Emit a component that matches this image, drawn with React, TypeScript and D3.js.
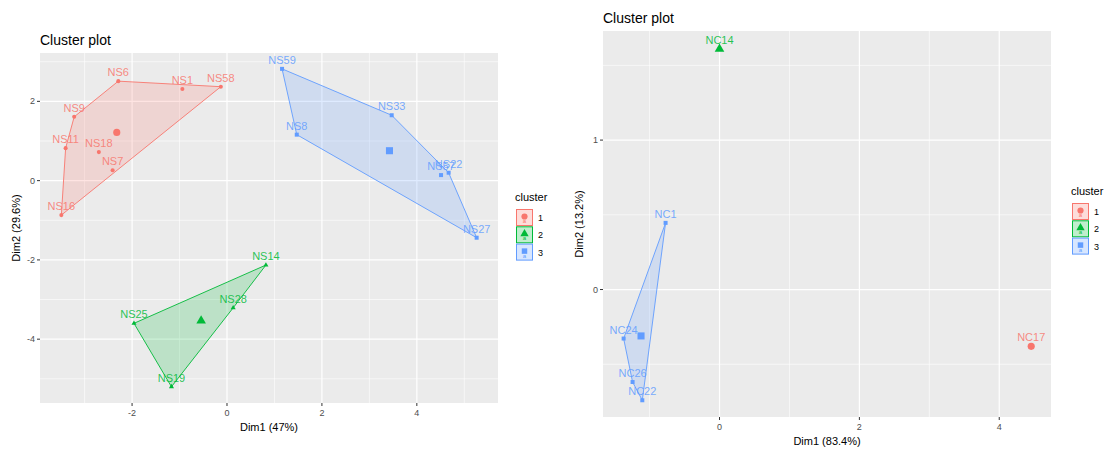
import * as d3 from "d3";

// ---- data ----
const COLORS = ["#F8766D", "#00BA38", "#619CFF"];
const CLUSTERS = [1, 2, 3];

const leftNames = ["NS6", "NS1", "NS58", "NS9", "NS11", "NS18", "NS7", "NS16", "NS59", "NS33", "NS8", "NS57", "NS22", "NS27", "NS14", "NS28", "NS25", "NS19"];
const leftDim1 = [-2.29, -0.94, -0.13, -3.22, -3.4, -2.7, -2.41, -3.49, 1.16, 3.47, 1.47, 4.51, 4.67, 5.26, 0.82, 0.13, -1.96, -1.17];
const leftDim2 = [2.51, 2.31, 2.37, 1.61, 0.82, 0.72, 0.26, -0.87, 2.82, 1.65, 1.16, 0.14, 0.2, -1.44, -2.13, -3.21, -3.6, -5.2];
const leftCluster = [1, 1, 1, 1, 1, 1, 1, 1, 3, 3, 3, 3, 3, 3, 2, 2, 2, 2];
const leftXTicks = [-2, 0, 2, 4];
const leftYTicks = [-4, -2, 0, 2];

const rightNames = ["NC14", "NC1", "NC24", "NC26", "NC22", "NC17"];
const rightDim1 = [0, -0.771, -1.371, -1.243, -1.104, 4.457];
const rightDim2 = [1.61, 0.446, -0.328, -0.619, -0.741, -0.38];
const rightCluster = [2, 3, 3, 3, 3, 1];
const rightXTicks = [0, 2, 4];
const rightYTicks = [0, 1];

const FONT = "Liberation Sans, Arial, sans-serif";
const SHAPES = [d3.symbolCircle, d3.symbolTriangle, d3.symbolSquare];
const POINT_SIZE = [13, 11, 16];
const CENTER_SIZE = [40, 40, 50];

const sym = (ci: number, size: number) => d3.symbol().type(SHAPES[ci]).size(size)() || "";

function minors(ticks: number[], domain: number[]) {
  const step = ticks[1] - ticks[0];
  const out: number[] = [];
  for (let v = ticks[0] - step * 1.5; v <= domain[1]; v += step) {
    if (v >= domain[0]) out.push(v);
  }
  return out;
}

type PlotProps = {
  frame: { left: number; top: number; right: number; bottom: number };
  xDomain: number[];
  yDomain: number[];
  xTicks: number[];
  yTicks: number[];
  names: string[];
  dim1: number[];
  dim2: number[];
  cluster: number[];
  xTitle: string;
  yTitle: string;
  legendX: number;
  legendY: number;
};

function ClusterPlot(p: PlotProps) {
  const { left, top, right, bottom } = p.frame;
  const x = d3.scaleLinear().domain(p.xDomain).range([left, right]);
  const y = d3.scaleLinear().domain(p.yDomain).range([bottom, top]);

  const pts = p.names.map((n, i) => ({ name: n, x: p.dim1[i], y: p.dim2[i], c: p.cluster[i] }));
  const groups = CLUSTERS.map((c) => {
    const g = pts.filter((d) => d.c === c);
    const hull = g.length >= 3 ? d3.polygonHull(g.map((d) => [x(d.x), y(d.y)] as [number, number])) : null;
    return { c, g, hull, cx: d3.mean(g, (d) => d.x) as number, cy: d3.mean(g, (d) => d.y) as number };
  });

  return (
    <g fontFamily={FONT}>
      <text x={left} y={top - 8} fontSize={14} fill="#000">Cluster plot</text>
      <rect x={left} y={top} width={right - left} height={bottom - top} fill="#EBEBEB" />
      {minors(p.xTicks, p.xDomain).map((v) => (
        <line key={"mx" + v} x1={x(v)} x2={x(v)} y1={top} y2={bottom} stroke="#fff" strokeWidth={0.6} />
      ))}
      {minors(p.yTicks, p.yDomain).map((v) => (
        <line key={"my" + v} y1={y(v)} y2={y(v)} x1={left} x2={right} stroke="#fff" strokeWidth={0.6} />
      ))}
      {p.xTicks.map((v) => (
        <g key={"x" + v}>
          <line x1={x(v)} x2={x(v)} y1={top} y2={bottom} stroke="#fff" strokeWidth={1.2} />
          <line x1={x(v)} x2={x(v)} y1={bottom} y2={bottom + 3} stroke="#333" strokeWidth={1} />
          <text x={x(v)} y={bottom + 13} fontSize={9} fill="#4D4D4D" textAnchor="middle">{v < 0 ? "-" + Math.abs(v) : v}</text>
        </g>
      ))}
      {p.yTicks.map((v) => (
        <g key={"y" + v}>
          <line y1={y(v)} y2={y(v)} x1={left} x2={right} stroke="#fff" strokeWidth={1.2} />
          <line y1={y(v)} y2={y(v)} x1={left - 3} x2={left} stroke="#333" strokeWidth={1} />
          <text x={left - 5} y={y(v) + 3} fontSize={9} fill="#4D4D4D" textAnchor="end">{v < 0 ? "-" + Math.abs(v) : v}</text>
        </g>
      ))}
      {groups.map((gr) =>
        gr.hull ? (
          <path key={"h" + gr.c} d={"M" + gr.hull.join("L") + "Z"} fill={COLORS[gr.c - 1]} fillOpacity={0.2}
            stroke={COLORS[gr.c - 1]} strokeWidth={0.9} />
        ) : null
      )}
      {pts.map((d) => (
        <path key={"p" + d.name} d={sym(d.c - 1, POINT_SIZE[d.c - 1])}
          transform={`translate(${x(d.x)},${y(d.y)})`} fill={COLORS[d.c - 1]} />
      ))}
      {groups.map((gr) => (
        <path key={"c" + gr.c} d={sym(gr.c - 1, CENTER_SIZE[gr.c - 1])}
          transform={`translate(${x(gr.cx)},${y(gr.cy)})`} fill={COLORS[gr.c - 1]} />
      ))}
      {pts.map((d) => (
        <text key={"t" + d.name} x={x(d.x)} y={y(d.y) - 5} fontSize={11} textAnchor="middle"
          fill={COLORS[d.c - 1]} fillOpacity={0.85}>{d.name}</text>
      ))}
      <text x={(left + right) / 2} y={bottom + 28} fontSize={11} textAnchor="middle" fill="#000">{p.xTitle}</text>
      <text transform={`translate(${left - 20},${(top + bottom) / 2}) rotate(-90)`} fontSize={11}
        textAnchor="middle" fill="#000">{p.yTitle}</text>
      <g transform={`translate(${p.legendX},${p.legendY})`}>
        <text x={0} y={0} fontSize={11} fill="#000">cluster</text>
        {CLUSTERS.map((c, i) => (
          <g key={"l" + c} transform={`translate(1,${8 + i * 17.3})`}>
            <rect x={0.5} y={0.5} width={16} height={16} fill={COLORS[i]} fillOpacity={0.25} stroke={COLORS[i]} strokeWidth={1} />
            <text x={8.5} y={14} fontSize={6} textAnchor="middle" fill={COLORS[i]}>a</text>
            <path d={sym(i, 30)} transform="translate(8.5,7.5)" fill={COLORS[i]} />
            <text x={22} y={12} fontSize={9} fill="#000">{c}</text>
          </g>
        ))}
      </g>
    </g>
  );
}

export default function App() {
  return (
    <svg width={1115} height={453} style={{ position: "absolute", left: 0, top: 0, background: "#fff" }}>
      <rect width={1115} height={453} fill="#fff" />
      <ClusterPlot
        frame={{ left: 40, top: 53, right: 498, bottom: 403 }}
        xDomain={[-3.94, 5.71]} yDomain={[-5.61, 3.22]}
        xTicks={leftXTicks} yTicks={leftYTicks}
        names={leftNames} dim1={leftDim1} dim2={leftDim2} cluster={leftCluster}
        xTitle="Dim1 (47%)" yTitle="Dim2 (29.6%)"
        legendX={515} legendY={201}
      />
      <ClusterPlot
        frame={{ left: 603, top: 31, right: 1051, bottom: 417 }}
        xDomain={[-1.666, 4.74]} yDomain={[-0.853, 1.73]}
        xTicks={rightXTicks} yTicks={rightYTicks}
        names={rightNames} dim1={rightDim1} dim2={rightDim2} cluster={rightCluster}
        xTitle="Dim1 (83.4%)" yTitle="Dim2 (13.2%)"
        legendX={1071} legendY={195}
      />
    </svg>
  );
}
